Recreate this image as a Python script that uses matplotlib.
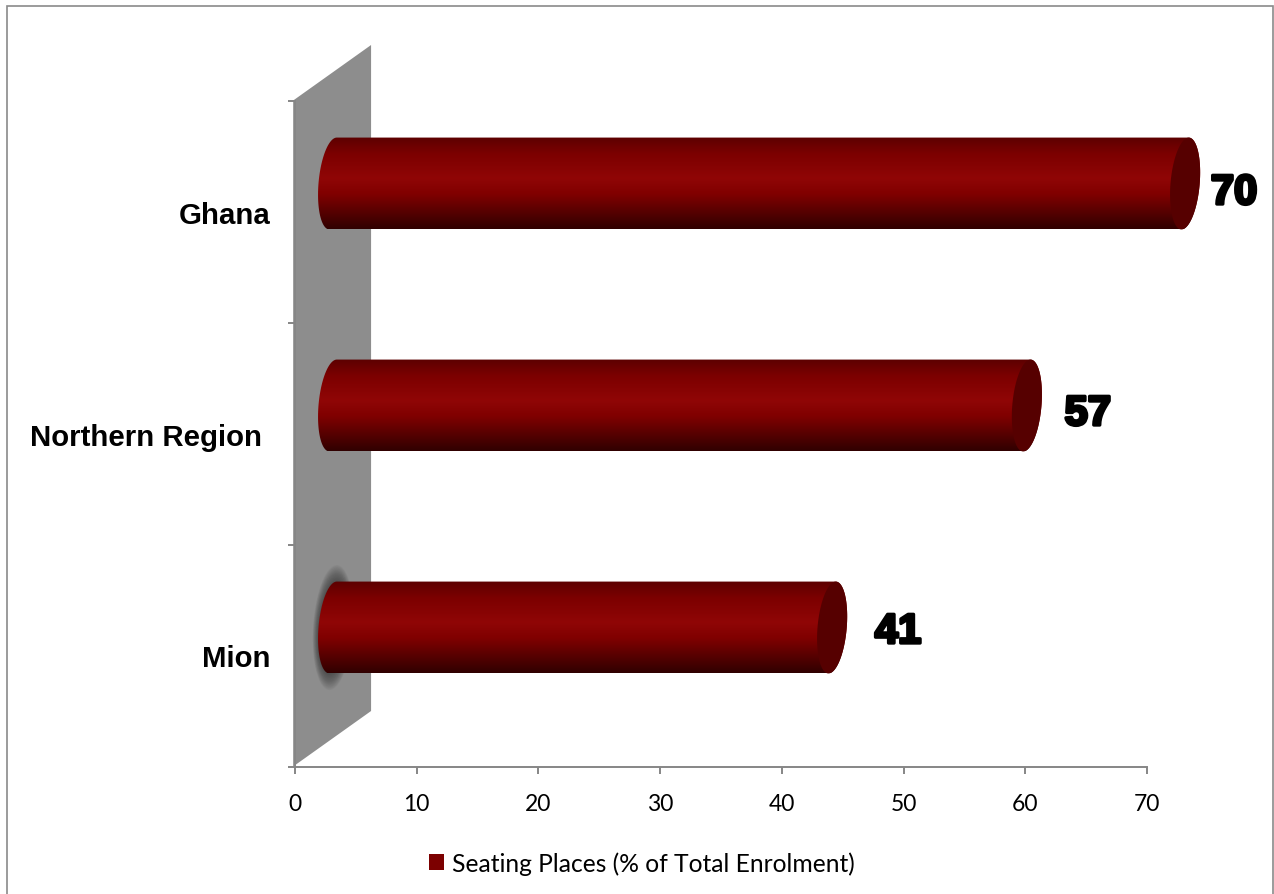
import matplotlib
matplotlib.use("Agg")
import matplotlib.pyplot as plt
import matplotlib.patheffects as pe
import numpy as np
from matplotlib.colors import LinearSegmentedColormap
from matplotlib.patches import PathPatch, Patch, Polygon, Rectangle
from matplotlib.path import Path

# data
categorias = ["Mion", "Northern Region ", "Ghana"]
valores = [41, 57, 70]
x_ticks = [0, 10, 20, 30, 40, 50, 60, 70]
legenda = "Seating Places (% of Total Enrolment)"

# fake 3D look, in data units
prof_x, prof_y = 6.25, 0.25
meio_x, meio_y = 3.13, 0.126
raio_x, raio_y = 1.2, 0.207
incl = 0.3   # inclinação das elipses

GRIS = "#868686"
cor_cilindro = LinearSegmentedColormap.from_list("cilindro", [
    (0.00, "#5c0000"), (0.18, "#7c0000"), (0.45, "#900606"),
    (0.62, "#800000"), (0.80, "#5a0000"), (1.00, "#300000"),
])
gradiente = np.linspace(0, 1, 256)[:, None]


def elipse(cx, cy, rx, ry):
    # elipse inclinada, devolve os pontos do contorno
    a = np.linspace(0, 2 * np.pi, 120)
    return np.c_[cx + rx * np.cos(a) + incl * np.sin(a), cy + ry * np.sin(a)]


fig = plt.figure(figsize=(12.74, 8.95), dpi=100)
ax = fig.add_axes([295 / 1274, 1 - 767.5 / 895, (1147 - 295) / 1274, 666 / 895])

# moldura externa
fig.add_artist(Rectangle((7 / 1274, -0.01), 1266 / 1274, 1 - 7 / 895 + 0.01,
                         transform=fig.transFigure, fill=False, edgecolor="#8a8a8a", linewidth=1.2))

# parede lateral
ax.add_patch(Polygon([(-0.15, 0), (prof_x, prof_y), (prof_x, 3 + prof_y), (-0.15, 3)],
                     facecolor="#8d8d8d", edgecolor="none", clip_on=False, zorder=1))

# sombra do primeiro cilindro, que toca a parede
for k in np.linspace(1, 0, 24):
    ax.add_patch(Polygon(elipse(meio_x, 0.5 + meio_y, raio_x + 0.45 * k, raio_y + 0.075 * k),
                         facecolor="#303030", edgecolor="none", alpha=0.035, zorder=2))

# cilindros
t = np.linspace(0, np.pi, 60)
for i, v in enumerate(valores):
    cy = i + 0.5 + meio_y
    x0 = meio_x
    x1 = v + meio_x
    # contorno: meia elipse direita + meia elipse esquerda
    xs = np.r_[x1 + raio_x * np.sin(t) + incl * np.cos(t), x0 - raio_x * np.sin(t) - incl * np.cos(t)]
    ys = np.r_[cy + raio_y * np.cos(t), cy - raio_y * np.cos(t)]
    contorno = PathPatch(Path(np.c_[xs, ys]), transform=ax.transData, facecolor="none", edgecolor="none")
    im = ax.imshow(gradiente, cmap=cor_cilindro, aspect="auto", zorder=3,
                   extent=(x0 - raio_x - incl, x1 + raio_x + incl, cy - raio_y, cy + raio_y))
    im.set_clip_path(contorno)
    im.set_clip_box(fig.bbox)
    ax.add_patch(Polygon(elipse(x1, cy, raio_x, raio_y), facecolor="#560000",
                         edgecolor="none", clip_on=False, zorder=4))

# rótulos de valor
desloc = [(104, 28), (99, 24), (87, 23)]
for i, v in enumerate(valores):
    ax.annotate(str(v), (v, i + 0.5), xytext=desloc[i], textcoords="offset pixels",
                ha="center", va="center_baseline", fontsize=30, fontweight="bold",
                family="Liberation Sans", color="black", zorder=5,
                path_effects=[pe.withStroke(linewidth=2.4, foreground="black")])

ax.set_xlim(0, 70)
ax.set_ylim(0, 3)
ax.set_xticks(x_ticks)
ax.set_yticks([0, 1, 2, 3])
ax.set_yticklabels([])
ax.set_yticks([0.5, 1.5, 2.5], minor=True)
ax.set_yticklabels(categorias, minor=True, fontsize=21.2, fontweight="bold", family="Liberation Sans")
ax.tick_params(axis="y", which="minor", length=0, pad=18)
ax.tick_params(axis="both", which="major", length=5, width=1.4, color=GRIS)
ax.tick_params(axis="x", labelsize=16.5, pad=14)
for lab in ax.get_xticklabels():
    lab.set_family("Lato")

for lado in ["top", "right"]:
    ax.spines[lado].set_visible(False)
for lado in ["left", "bottom"]:
    ax.spines[lado].set_color(GRIS)
    ax.spines[lado].set_linewidth(1.4)
ax.patch.set_visible(False)

fig.legend(handles=[Patch(facecolor="#7c0000", label=legenda)], loc="center",
           bbox_to_anchor=(642 / 1274, 1 - 864 / 895), frameon=False,
           prop={"family": "Lato", "size": 17.7}, handlelength=0.6, handleheight=0.6,
           handletextpad=0.35)

fig.savefig("out.png", dpi=100)
